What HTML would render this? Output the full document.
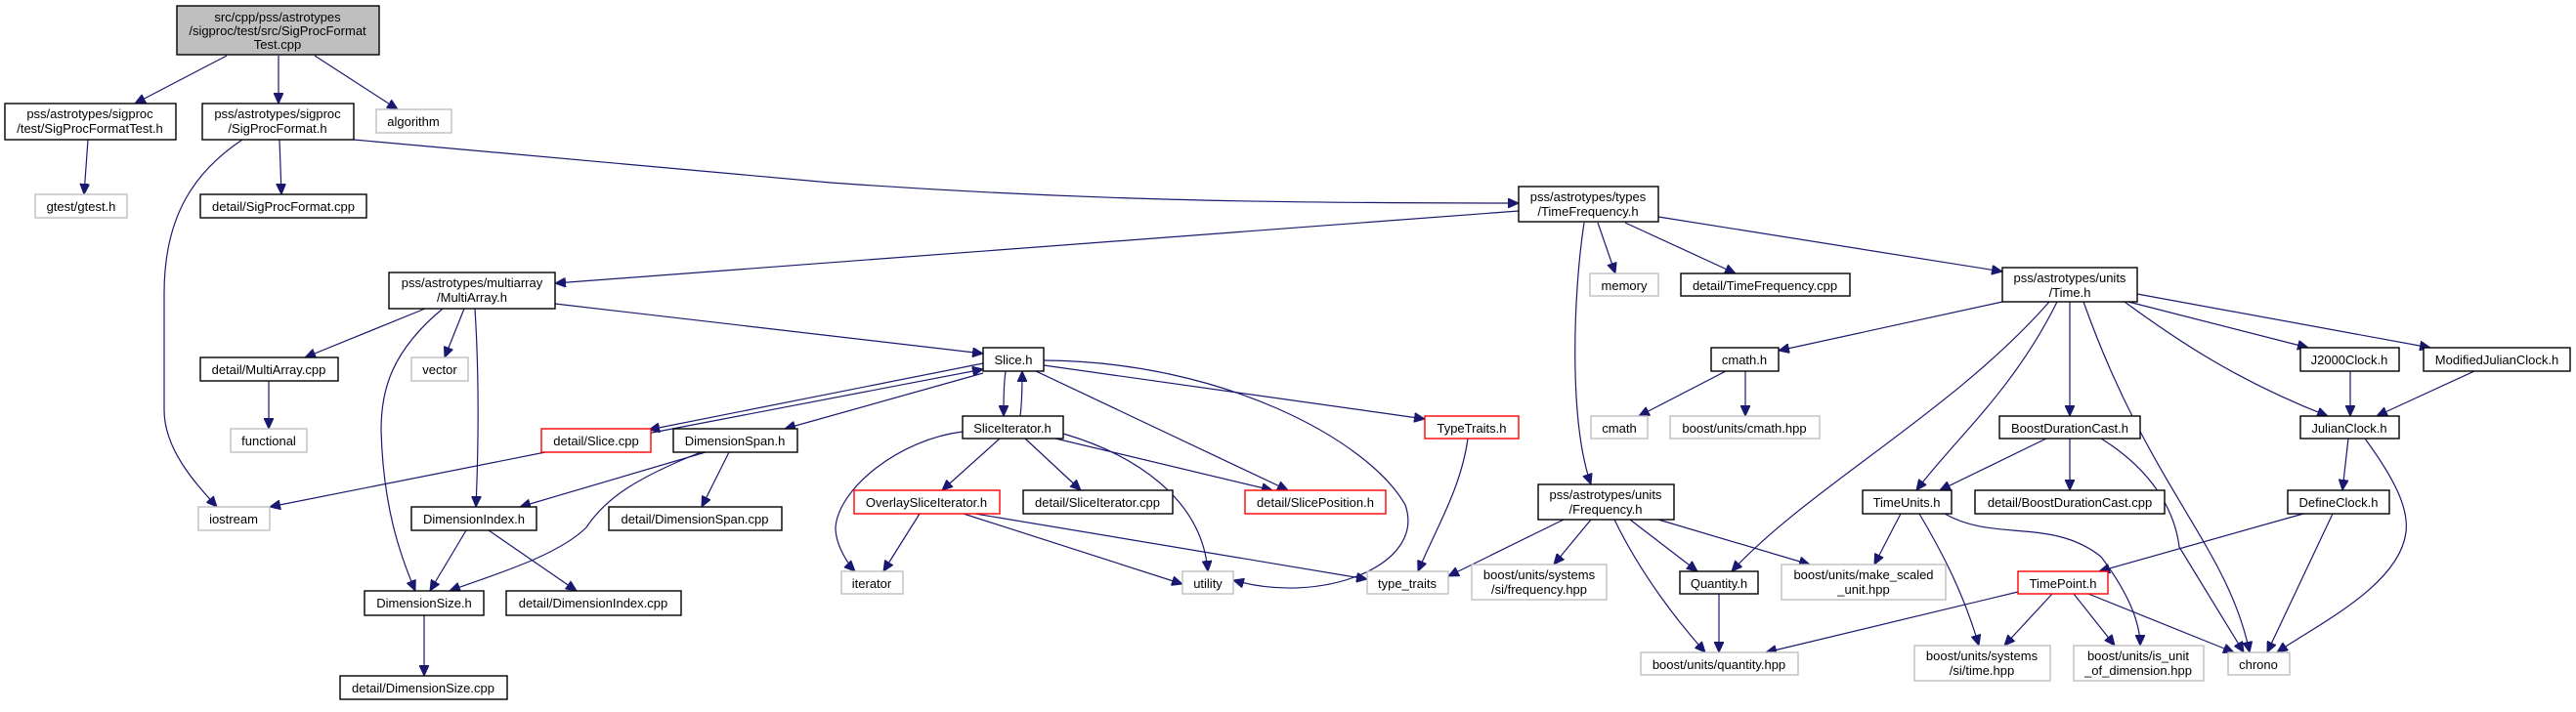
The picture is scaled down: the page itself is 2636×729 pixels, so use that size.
<!DOCTYPE html>
<html><head><meta charset="utf-8"><style>
html,body{margin:0;padding:0;background:#fff;}
svg{display:block;}
text{font-family:"Liberation Sans",Arial,sans-serif;font-size:13px;fill:#000;text-anchor:middle;}
.n rect{fill:#fff;stroke:#000;stroke-width:1.4;}
.g rect{fill:#fff;stroke:#bfbfbf;stroke-width:1.4;}
.r rect{fill:#fff;stroke:#ff0000;stroke-width:1.4;}
.e path{fill:none;stroke:#191970;stroke-width:1.2;marker-end:url(#a);}
</style></head><body>
<svg width="2636" height="729" viewBox="0 0 2636 729" xmlns="http://www.w3.org/2000/svg">
<defs><marker id="a" markerUnits="userSpaceOnUse" markerWidth="12" markerHeight="10" refX="11" refY="5" orient="auto"><path d="M0,0 L11,5 L0,10 z" fill="#191970" stroke="#191970"/></marker></defs>
<g class="e">
<path d="M232,57 L138,106"/>
<path d="M285,57 L285,106"/>
<path d="M322,57 L407,112"/>
<path d="M90,143 L86,199"/>
<path d="M286,143 L288,199"/>
<path d="M248,143 C200,175 168,220 168,300 L168,420 C168,460 200,495 222,519"/>
<path d="M362,143 L850,187 C1100,205 1300,208 1554,208"/>
<path d="M1554,216 L568,290"/>
<path d="M1635,228 L1653,280"/>
<path d="M1663,228 L1776,280"/>
<path d="M1697,222 L2049,278"/>
<path d="M1621,228 C1610,300 1605,430 1628,496"/>
<path d="M435,316 L312,366"/>
<path d="M475,316 L455,366"/>
<path d="M453,316 C400,360 390,400 390,440 C392,520 410,570 425,605"/>
<path d="M486,316 C490,380 490,450 487,519"/>
<path d="M568,311 L1006,362"/>
<path d="M275,390 L275,439"/>
<path d="M1006,372 L664,440"/>
<path d="M662,444 L1006,378"/>
<path d="M1006,382 L803,439"/>
<path d="M558,463 L276,519"/>
<path d="M722,463 L532,519"/>
<path d="M717,463 C650,490 620,510 600,540 C570,570 500,590 460,605"/>
<path d="M746,463 L718,519"/>
<path d="M477,543 L440,605"/>
<path d="M500,543 L590,605"/>
<path d="M434,630 L434,692"/>
<path d="M1029,380 C1027,395 1027,410 1027,426"/>
<path d="M1044,426 C1046,410 1046,395 1046,380"/>
<path d="M1060,380 L1318,502"/>
<path d="M1068,374 L1458,429"/>
<path d="M1068,369 C1250,370 1400,450 1438,517 C1460,580 1350,620 1262,594"/>
<path d="M985,442 C920,450 858,500 855,540 C855,560 870,580 875,585"/>
<path d="M1023,449 L964,502"/>
<path d="M1049,449 L1106,502"/>
<path d="M1080,449 L1302,502"/>
<path d="M1088,444 C1160,465 1230,510 1236,585"/>
<path d="M941,526 L904,585"/>
<path d="M986,526 L1210,598"/>
<path d="M998,526 L1399,593"/>
<path d="M1502,449 C1495,500 1470,540 1451,585"/>
<path d="M1600,532 L1482,590"/>
<path d="M1628,532 L1590,578"/>
<path d="M1652,532 C1680,590 1720,640 1745,668"/>
<path d="M1668,532 L1737,585"/>
<path d="M1697,532 L1852,578"/>
<path d="M2049,309 L1820,359"/>
<path d="M2097,309 C2000,420 1850,500 1772,585"/>
<path d="M2105,309 C2060,400 2000,450 1961,502"/>
<path d="M2118,309 L2118,426"/>
<path d="M2132,309 C2200,500 2280,560 2302,668"/>
<path d="M2174,309 C2230,350 2290,390 2382,426"/>
<path d="M2174,308 L2362,356"/>
<path d="M2187,301 L2487,356"/>
<path d="M1766,380 L1677,426"/>
<path d="M1786,380 L1786,426"/>
<path d="M2405,380 L2405,426"/>
<path d="M2532,380 L2432,426"/>
<path d="M2094,449 L1985,502"/>
<path d="M2118,449 L2118,502"/>
<path d="M2150,449 C2200,480 2225,520 2230,560 L2296,668"/>
<path d="M2403,449 L2397,502"/>
<path d="M2420,449 C2450,490 2465,520 2462,545 C2455,600 2370,640 2330,668"/>
<path d="M2357,526 L2148,585"/>
<path d="M2387,526 L2320,668"/>
<path d="M1945,526 L1918,578"/>
<path d="M1964,526 C1990,570 2010,610 2025,661"/>
<path d="M1990,526 C2040,555 2100,530 2150,570 C2180,610 2190,640 2190,661"/>
<path d="M1759,608 L1759,668"/>
<path d="M2065,606 L1807,668"/>
<path d="M2100,608 L2051,661"/>
<path d="M2122,608 L2164,661"/>
<path d="M2137,608 L2286,668"/>
</g>
<g class="n"><rect x="181" y="6" width="207" height="50" style="fill:#bfbfbf"/><text x="284" y="22">src/cpp/pss/astrotypes</text><text x="284" y="36">/sigproc/test/src/SigProcFormat</text><text x="284" y="50">Test.cpp</text></g>
<g class="n"><rect x="5" y="106" width="175" height="37"/><text x="92" y="121">pss/astrotypes/sigproc</text><text x="92" y="136">/test/SigProcFormatTest.h</text></g>
<g class="n"><rect x="207" y="106" width="155" height="37"/><text x="284" y="121">pss/astrotypes/sigproc</text><text x="284" y="136">/SigProcFormat.h</text></g>
<g class="g"><rect x="385" y="112" width="77" height="24"/><text x="423" y="129">algorithm</text></g>
<g class="g"><rect x="36" y="199" width="94" height="24"/><text x="83" y="216">gtest/gtest.h</text></g>
<g class="n"><rect x="205" y="199" width="170" height="24"/><text x="290" y="216">detail/SigProcFormat.cpp</text></g>
<g class="n"><rect x="398" y="279" width="170" height="37"/><text x="483" y="294">pss/astrotypes/multiarray</text><text x="483" y="309">/MultiArray.h</text></g>
<g class="n"><rect x="205" y="366" width="141" height="24"/><text x="275" y="383">detail/MultiArray.cpp</text></g>
<g class="g"><rect x="421" y="366" width="58" height="24"/><text x="450" y="383">vector</text></g>
<g class="g"><rect x="236" y="439" width="78" height="24"/><text x="275" y="456">functional</text></g>
<g class="r"><rect x="554" y="439" width="112" height="24"/><text x="610" y="456">detail/Slice.cpp</text></g>
<g class="n"><rect x="689" y="439" width="127" height="24"/><text x="752" y="456">DimensionSpan.h</text></g>
<g class="g"><rect x="203" y="519" width="73" height="24"/><text x="239" y="536">iostream</text></g>
<g class="n"><rect x="421" y="519" width="128" height="24"/><text x="485" y="536">DimensionIndex.h</text></g>
<g class="n"><rect x="623" y="519" width="177" height="24"/><text x="711" y="536">detail/DimensionSpan.cpp</text></g>
<g class="n"><rect x="373" y="605" width="122" height="25"/><text x="434" y="622">DimensionSize.h</text></g>
<g class="n"><rect x="518" y="605" width="179" height="25"/><text x="607" y="622">detail/DimensionIndex.cpp</text></g>
<g class="n"><rect x="348" y="692" width="171" height="24"/><text x="433" y="709">detail/DimensionSize.cpp</text></g>
<g class="n"><rect x="1554" y="191" width="143" height="36"/><text x="1625" y="206">pss/astrotypes/types</text><text x="1625" y="221">/TimeFrequency.h</text></g>
<g class="g"><rect x="1627" y="280" width="70" height="23"/><text x="1662" y="297">memory</text></g>
<g class="n"><rect x="1720" y="280" width="173" height="23"/><text x="1806" y="297">detail/TimeFrequency.cpp</text></g>
<g class="n"><rect x="2049" y="274" width="138" height="35"/><text x="2118" y="289">pss/astrotypes/units</text><text x="2118" y="304">/Time.h</text></g>
<g class="n"><rect x="1006" y="356" width="62" height="24"/><text x="1037" y="373">Slice.h</text></g>
<g class="n"><rect x="985" y="426" width="103" height="23"/><text x="1036" y="443">SliceIterator.h</text></g>
<g class="r"><rect x="1458" y="426" width="96" height="23"/><text x="1506" y="443">TypeTraits.h</text></g>
<g class="n"><rect x="1751" y="356" width="69" height="24"/><text x="1785" y="373">cmath.h</text></g>
<g class="n"><rect x="2354" y="356" width="101" height="24"/><text x="2404" y="373">J2000Clock.h</text></g>
<g class="n"><rect x="2480" y="356" width="150" height="24"/><text x="2555" y="373">ModifiedJulianClock.h</text></g>
<g class="g"><rect x="1628" y="426" width="58" height="23"/><text x="1657" y="443">cmath</text></g>
<g class="g"><rect x="1709" y="426" width="153" height="23"/><text x="1785" y="443">boost/units/cmath.hpp</text></g>
<g class="n"><rect x="2046" y="426" width="144" height="23"/><text x="2118" y="443">BoostDurationCast.h</text></g>
<g class="n"><rect x="2354" y="426" width="101" height="23"/><text x="2404" y="443">JulianClock.h</text></g>
<g class="r"><rect x="874" y="502" width="149" height="24"/><text x="948" y="519">OverlaySliceIterator.h</text></g>
<g class="n"><rect x="1047" y="502" width="153" height="24"/><text x="1123" y="519">detail/SliceIterator.cpp</text></g>
<g class="r"><rect x="1274" y="502" width="144" height="24"/><text x="1346" y="519">detail/SlicePosition.h</text></g>
<g class="n"><rect x="1574" y="496" width="139" height="36"/><text x="1643" y="511">pss/astrotypes/units</text><text x="1643" y="526">/Frequency.h</text></g>
<g class="n"><rect x="1906" y="502" width="91" height="24"/><text x="1951" y="519">TimeUnits.h</text></g>
<g class="n"><rect x="2021" y="502" width="194" height="24"/><text x="2118" y="519">detail/BoostDurationCast.cpp</text></g>
<g class="n"><rect x="2341" y="502" width="104" height="24"/><text x="2393" y="519">DefineClock.h</text></g>
<g class="g"><rect x="861" y="585" width="63" height="23"/><text x="892" y="602">iterator</text></g>
<g class="g"><rect x="1210" y="585" width="52" height="23"/><text x="1236" y="602">utility</text></g>
<g class="g"><rect x="1399" y="585" width="83" height="23"/><text x="1440" y="602">type_traits</text></g>
<g class="g"><rect x="1506" y="578" width="138" height="36"/><text x="1575" y="593">boost/units/systems</text><text x="1575" y="608">/si/frequency.hpp</text></g>
<g class="n"><rect x="1719" y="585" width="80" height="23"/><text x="1759" y="602">Quantity.h</text></g>
<g class="g"><rect x="1823" y="578" width="168" height="36"/><text x="1907" y="593">boost/units/make_scaled</text><text x="1907" y="608">_unit.hpp</text></g>
<g class="r"><rect x="2065" y="585" width="92" height="23"/><text x="2111" y="602">TimePoint.h</text></g>
<g class="g"><rect x="1679" y="668" width="161" height="23"/><text x="1759" y="685">boost/units/quantity.hpp</text></g>
<g class="g"><rect x="1959" y="661" width="139" height="36"/><text x="2028" y="676">boost/units/systems</text><text x="2028" y="691">/si/time.hpp</text></g>
<g class="g"><rect x="2122" y="661" width="133" height="36"/><text x="2188" y="676">boost/units/is_unit</text><text x="2188" y="691">_of_dimension.hpp</text></g>
<g class="g"><rect x="2280" y="668" width="63" height="23"/><text x="2311" y="685">chrono</text></g>
</svg>
</body></html>
